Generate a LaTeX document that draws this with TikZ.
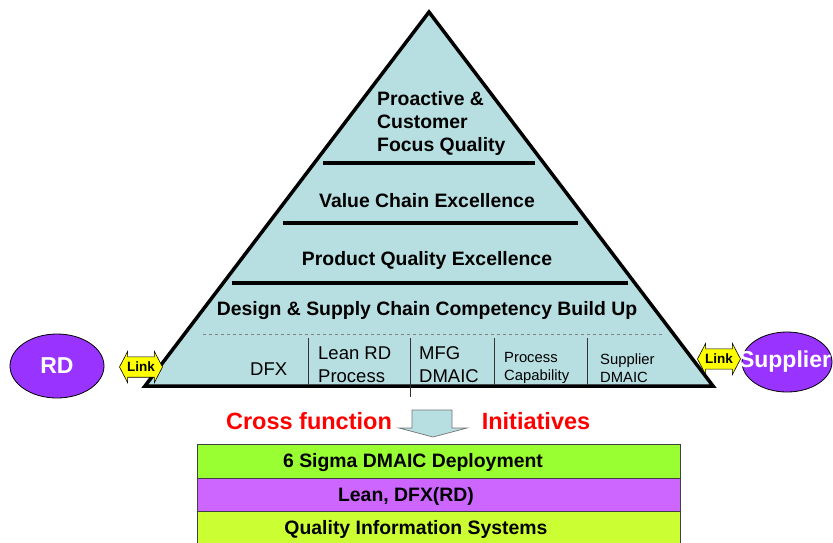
\documentclass[tikz,border=0pt]{standalone}
\usepackage{fontspec}
\setmainfont{Liberation Sans}
\usetikzlibrary{shapes.geometric,shapes.arrows,calc}
\definecolor{tri}{HTML}{B7DFE1}
\definecolor{boxA}{HTML}{99FF33}
\definecolor{boxB}{HTML}{CC66FF}
\definecolor{boxC}{HTML}{CCFF33}
\definecolor{violet}{HTML}{9933FF}
\definecolor{linkyel}{HTML}{FFFF00}
\definecolor{redtxt}{HTML}{FF0000}
\begin{document}
\begin{tikzpicture}[x=1pt,y=-1pt,
  big/.style={font=\fontsize{19.4}{23}\selectfont\bfseries, inner sep=0pt},
  cell/.style={font=\fontsize{18.5}{23}\selectfont, inner sep=0pt, align=left, anchor=west},
  smallcell/.style={font=\fontsize{14.8}{18}\selectfont, inner sep=0pt, align=left, anchor=west},
  level/.style={line width=4pt},
  divider/.style={line width=0.8pt, draw=black!80},
  oval/.style={ellipse, draw=black, line width=0.8pt, fill=violet, text=white, inner sep=0pt,
    font=\fontsize{23}{27}\selectfont\bfseries},
  linkarrow/.style={double arrow, draw=black, line width=0.6pt, fill=linkyel,
    double arrow tip angle=125, double arrow head extend=5.5pt, inner xsep=1pt, inner ysep=5pt,
    minimum height=43pt, font=\fontsize{13.5}{15}\selectfont\bfseries},
  cross/.style={font=\fontsize{23.5}{27}\selectfont\bfseries, text=redtxt, inner sep=0pt},
  band/.style={draw=black!75, line width=0.8pt, minimum width=483pt, inner sep=0pt},
  bandtxt/.style={font=\fontsize{19.4}{23}\selectfont\bfseries, inner sep=0pt}
]
\useasboundingbox (0,0) rectangle (833,542);

% pyramid
\draw[line width=3.5pt, fill=tri] (429,12) -- (713,386) -- (145,386) -- cycle;
\draw[level] (323,163) -- (535,163);
\draw[level] (283,223) -- (578,223);
\draw[level] (232,283) -- (628,283);
\draw[gray, line width=0.8pt, dash pattern=on 3pt off 3pt] (203,334) -- (663,334);
\draw[divider] (308,338) -- (308,385);
\draw[divider] (410,338) -- (410,397);
\draw[divider] (494,338) -- (494,385);
\draw[divider] (587,338) -- (587,385);

\node[big, align=left, anchor=west] (proactive) at (377,123) {Proactive \&\\Customer\\Focus Quality};
\node[big] (value) at (427,201) {Value Chain Excellence};
\node[big] (product) at (427,260) {Product Quality Excellence};
\node[big] (design) at (427,311) {Design \& Supply Chain Competency Build Up};

\node[cell] (dfx) at (250,369) {DFX};
\node[cell] (leanrd) at (318,365) {Lean RD\\Process};
\node[cell] (mfg) at (419,365) {MFG\\DMAIC};
\node[smallcell] (pc) at (504,368) {Process\\Capability};
\node[smallcell] (sd) at (600,368) {Supplier\\DMAIC};

% side ovals and links
\node[oval, minimum width=94pt, minimum height=64pt] (rd) at (57,366) {RD};
\node[oval, minimum width=90pt, minimum height=60pt] (sup) at (787,362) {\makebox[0pt]{\hspace{-4pt}Supplier}};
\node[linkarrow] (linkL) at (141,367) {Link};
\node[linkarrow] (linkR) at (719,359) {Link};

% cross function arrow
\node[cross] (cf) at (309,421) {Cross function};
\node[cross] (ini) at (536,421) {Initiatives};
\draw[draw=black!55, line width=0.7pt, fill=tri] (412,410) -- (452,410) -- (452,428) -- (467,428)
  -- (433,437) -- (399,428) -- (412,428) -- cycle;

% bands
\node[band, fill=boxA, minimum height=34pt, anchor=north west] (b1) at (197,444) {};
\node[band, fill=boxB, minimum height=33pt, anchor=north west] (b2) at (197,478) {};
\node[band, fill=boxC, minimum height=34pt, anchor=north west] (b3) at (197,511) {};
\node[bandtxt] (t1) at (413,463) {6 Sigma DMAIC Deployment};
\node[bandtxt] (t2) at (406,496) {Lean, DFX(RD)};
\node[bandtxt] (t3) at (416,529) {Quality Information Systems};
\end{tikzpicture}
\end{document}
